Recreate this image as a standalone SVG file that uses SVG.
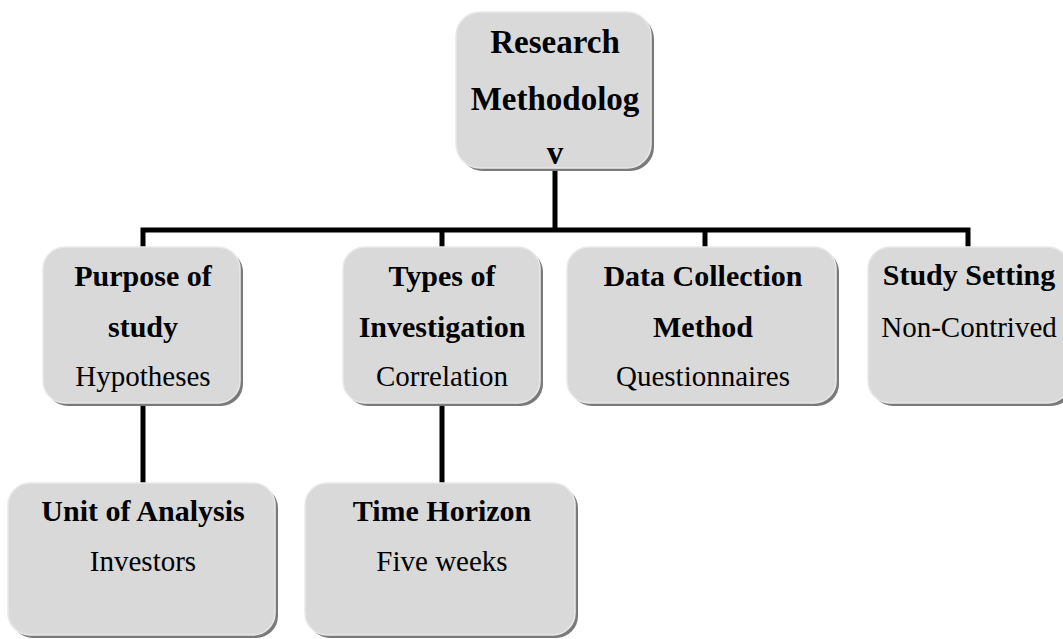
<svg xmlns="http://www.w3.org/2000/svg" width="1063" height="639" viewBox="0 0 1063 639">
<style>
.shadow{fill:#7a7a7a}
.box{fill:#d9d9d9;stroke:#e9e9e9;stroke-width:1.5}
.t{font-family:"Liberation Serif","Times New Roman",serif;text-anchor:middle;fill:#000}
.b{font-weight:bold;font-size:30px}
.r{font-size:29px}
.top{font-weight:bold;font-size:33px}
.conn{stroke:#000;stroke-width:5;fill:none}
</style>
<rect width="1063" height="639" fill="#fff"/>
<g id="connectors">
<line class="conn" x1="555" y1="168" x2="555" y2="230"/>
<polyline class="conn" points="143,249 143,230 968,230 968,249"/>
<line class="conn" x1="442" y1="230" x2="442" y2="249"/>
<line class="conn" x1="705" y1="230" x2="705" y2="249"/>
<line class="conn" x1="143" y1="403" x2="143" y2="485"/>
<line class="conn" x1="442" y1="403" x2="442" y2="485"/>
</g>
<g id="node-research">
<rect class="shadow" x="459" y="15" width="195" height="156" rx="24"/>
<rect class="box" x="456" y="12" width="195" height="156" rx="24"/>
<text class="t top" x="555" y="53">Research</text>
<text class="t top" x="555" y="110">Methodolog</text>
<text class="t top" x="555" y="164">v</text>
</g>
<g id="node-purpose">
<rect class="shadow" x="46" y="250" width="197" height="156" rx="22"/>
<rect class="box" x="43" y="247" width="197" height="156" rx="22"/>
<text class="t b" x="143" y="286">Purpose of</text>
<text class="t b" x="143" y="337">study</text>
<text class="t r" x="143" y="386">Hypotheses</text>
</g>
<g id="node-types">
<rect class="shadow" x="346" y="250" width="197" height="156" rx="22"/>
<rect class="box" x="343" y="247" width="197" height="156" rx="22"/>
<text class="t b" x="442" y="286">Types of</text>
<text class="t b" x="442" y="337">Investigation</text>
<text class="t r" x="442" y="386">Correlation</text>
</g>
<g id="node-data">
<rect class="shadow" x="570" y="250" width="269" height="156" rx="22"/>
<rect class="box" x="567" y="247" width="269" height="156" rx="22"/>
<text class="t b" x="703" y="286">Data Collection</text>
<text class="t b" x="703" y="337">Method</text>
<text class="t r" x="703" y="386">Questionnaires</text>
</g>
<g id="node-setting">
<rect class="shadow" x="871" y="250" width="202" height="156" rx="22"/>
<rect class="box" x="868" y="247" width="202" height="156" rx="22"/>
<text class="t b" x="969" y="285">Study Setting</text>
<text class="t r" x="969" y="337">Non-Contrived</text>
</g>
<g id="node-unit">
<rect class="shadow" x="11" y="486" width="267" height="152" rx="22"/>
<rect class="box" x="8" y="483" width="267" height="152" rx="22"/>
<text class="t b" x="143" y="521">Unit of Analysis</text>
<text class="t r" x="143" y="571">Investors</text>
</g>
<g id="node-time">
<rect class="shadow" x="308" y="486" width="270" height="152" rx="22"/>
<rect class="box" x="305" y="483" width="270" height="152" rx="22"/>
<text class="t b" x="442" y="521">Time Horizon</text>
<text class="t r" x="442" y="571">Five weeks</text>
</g>
</svg>
